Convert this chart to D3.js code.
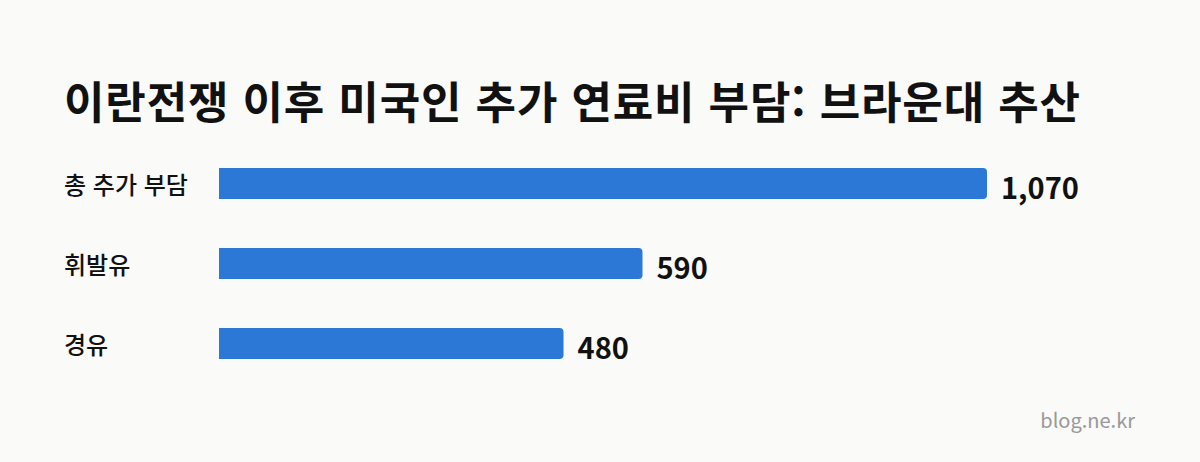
<!doctype html>
<html lang="ko">
<head>
<meta charset="utf-8">
<title>이란전쟁 이후 미국인 추가 연료비 부담</title>
<script src="https://cdn.jsdelivr.net/npm/d3@7"></script>
<style>
  body { margin: 0; background: #fafaf8; }
  svg { display: block; font-family: "Noto Sans CJK KR", "Noto Sans", sans-serif; }
</style>
</head>
<body>
<script>
// data
var categories = ["총 추가 부담", "휘발유", "경유"];
var values = [1070, 590, 480];

var width = 1200, height = 462;

var svg = d3.select("body").append("svg")
    .attr("width", width).attr("height", height);

svg.append("rect").attr("width", width).attr("height", height).attr("fill", "#fafaf8");

svg.append("text")
    .attr("x", 64).attr("y", 119)
    .attr("font-size", 44).attr("font-weight", 700)
    .attr("fill", "#111")
    .attr("textLength", 1016).attr("lengthAdjust", "spacing")
    .text("이란전쟁 이후 미국인 추가 연료비 부담: 브라운대 추산");

var x = d3.scaleLinear().domain([0, d3.max(values)]).range([219, 987]);
var y = d3.scaleBand().domain(categories).range([152, 375]).paddingInner(0.6125).paddingOuter(0.2);

var rows = svg.append("g").selectAll("g")
    .data(categories)
    .enter().append("g");

// bar with rounded right end only
rows.append("path")
    .attr("fill", "#2b78d6")
    .attr("d", function(d, i) {
        var x0 = x(0), x1 = x(values[i]), y0 = y(d), h = y.bandwidth(), r = 4;
        return "M" + x0 + "," + y0 + " H" + (x1 - r) + " Q" + x1 + "," + y0 + " " + x1 + "," + (y0 + r)
            + " V" + (y0 + h - r) + " Q" + x1 + "," + (y0 + h) + " " + (x1 - r) + "," + (y0 + h)
            + " H" + x0 + " Z";
    });

rows.append("text")
    .attr("x", 64)
    .attr("y", function(d) { return y(d) + y.bandwidth() / 2 + 2; })
    .attr("dy", "0.35em")
    .attr("font-size", 24).attr("font-weight", 500).attr("fill", "#111")
    .text(function(d) { return d; });

rows.append("text")
    .attr("x", function(d, i) { return x(values[i]) + 14; })
    .attr("y", function(d) { return y(d) + y.bandwidth() / 2 + 5; })
    .attr("dy", "0.35em")
    .attr("font-size", 29).attr("font-weight", 700).attr("fill", "#111")
    .text(function(d, i) { return d3.format(",")(values[i]); });

svg.append("text")
    .attr("x", 1135).attr("y", 428)
    .attr("text-anchor", "end")
    .attr("font-size", 20).attr("fill", "#999")
    .text("blog.ne.kr");
</script>
</body>
</html>
